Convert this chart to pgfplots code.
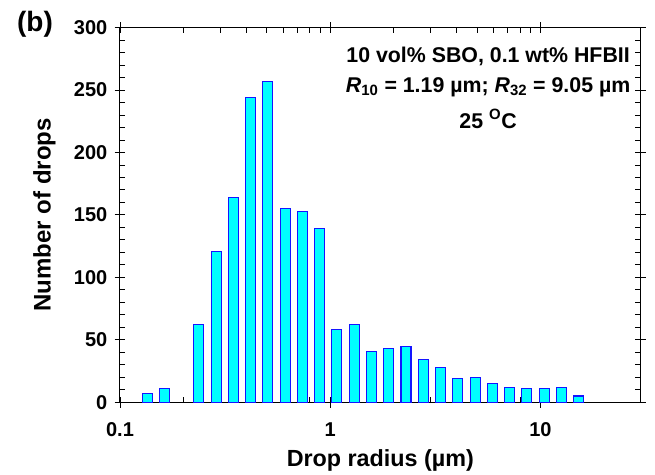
\documentclass[border=0pt]{standalone}
\usepackage{fontspec}
\setmainfont{Liberation Sans}
\usepackage{pgfplots}
\pgfplotsset{compat=1.18}
\begin{document}
\begin{tikzpicture}
\begin{axis}[
  scale only axis,
  width=390.5pt, height=281pt,
  xmode=log, xmin=0.1, xmax=30,
  ymin=0, ymax=300,
  xtick={0.1,1,10}, xticklabels={0.1,1,10},
  ytick={0,50,...,300},
  minor y tick num=4,
  tick align=inside,
  major tick length=4pt, minor tick length=4pt,
  extra x ticks={0.1,1,10}, extra x tick labels={},
  extra y ticks={0,50,...,300}, extra y tick labels={},
  extra tick style={tick align=outside},
  tick style={black, line width=0.7pt},
  axis line style={line width=0.75pt},
  /pgf/number format/assume math mode=true,
  every tick label/.append style={font=\fontsize{15}{15}\selectfont\bfseries},
  xticklabel style={yshift=-11.5pt},
  yticklabel style={xshift=-6pt},
  xlabel={Drop radius (µm)},
  ylabel={Number of drops},
  xlabel style={font=\fontsize{17.5}{17.5}\selectfont\bfseries, at={(axis description cs:0.5,-0.172)}, anchor=base},
  ylabel style={font=\fontsize{18}{18}\selectfont\bfseries, at={(axis description cs:-0.145,0.5)}, anchor=center},
  clip=false,
]
\addplot[ybar, bar width=7.5pt, fill={rgb,255:red,0;green,255;blue,255}, draw={rgb,255:red,20;green,20;blue,255}, line width=0.8pt] coordinates {
(0.1345,7) (0.1625,11) (0.2371,62) (0.2865,121) (0.3462,164) (0.4182,244)
(0.5053,257) (0.6106,155) (0.7377,153) (0.8913,139) (1.077,58) (1.301,62)
(1.572,41) (1.899,43) (2.295,45) (2.773,34) (3.350,28) (4.047,19)
(4.890,20) (5.908,15) (7.138,12) (8.624,11) (10.42,11) (12.59,12) (15.21,5)
};
\node[anchor=base, font=\fontsize{16}{16}\selectfont\bfseries] at (rel axis cs:0.707,0.906) {10 vol\% SBO, 0.1 wt\% HFBII};
\node[anchor=base, font=\fontsize{16}{16}\selectfont\bfseries] at (rel axis cs:0.707,0.828) {\textit{R}\textsubscript{10} = 1.19 µm; \textit{R}\textsubscript{32} = 9.05 µm};
\node[anchor=base, font=\fontsize{16}{16}\selectfont\bfseries] at (rel axis cs:0.707,0.732) {25 \textsuperscript{O}C};
\end{axis}
\node[anchor=base, font=\fontsize{21}{21}\selectfont\bfseries] at (-63.75pt,277.7pt) {(b)};
\pgfresetboundingbox
\path (-90pt,-54.5pt) rectangle (401.25pt,301.7pt);
\end{tikzpicture}
\end{document}
